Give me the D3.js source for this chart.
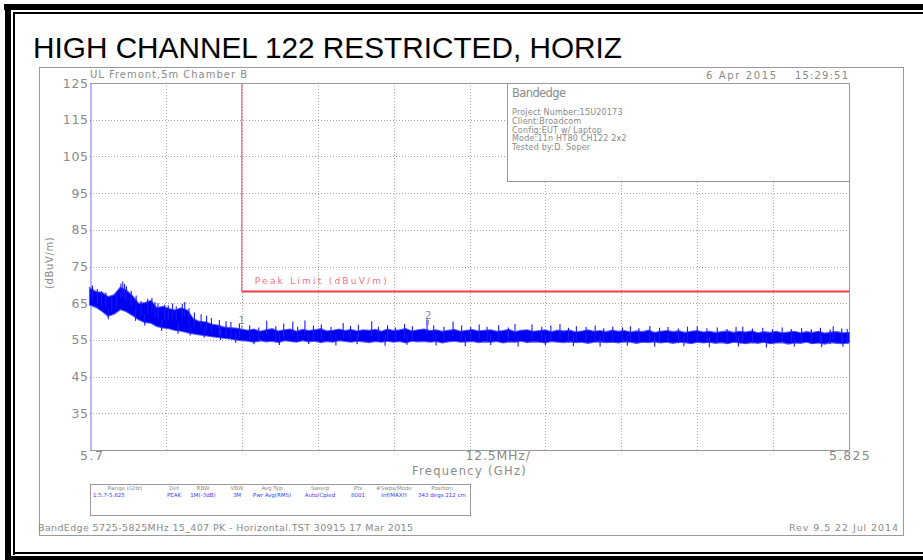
<!DOCTYPE html>
<html>
<head>
<meta charset="utf-8">
<script src="https://cdn.jsdelivr.net/npm/d3@7"></script>
<style>
  body { margin: 0; background: #fff; }
  svg { display: block; }
  .sa { font-family: "DejaVu Sans", sans-serif; fill: #8a8a8a; }
</style>
</head>
<body>
<div id="chart"></div>
<script>
////////////////////////////////////////////////////////////
//////////////////////// data //////////////////////////////
////////////////////////////////////////////////////////////

const title = "HIGH CHANNEL 122 RESTRICTED, HORIZ";

// frequency axis (GHz) and level axis (dBuV/m)
const freqStart = 5.7;
const freqStop = 5.825;
const freqDiv = 0.0125;
const levelTicks = [125, 115, 105, 95, 85, 75, 65, 55, 45, 35];
const levelMin = 25;
const levelMax = 125;

// peak limit line
const limitFreq = 5.725;
const limitLevel = 68.2;

// dense core of the trace, max/min per MHz from 5.700 GHz
const traceHi = [
  69.0, 68.0, 67.8, 66.6, 67.2, 69.2, 68.4, 66.8, 64.8, 65.0,
  65.6, 63.6, 64.0, 63.4, 63.0, 63.6, 63.0, 60.6, 59.9, 59.8,
  59.2, 58.9, 58.4, 58.2, 58.1, 57.8,
  57.5, 57.8, 57.2, 57.6, 57.9, 57.3, 57.6, 57.8, 57.2, 57.7,
  57.4, 57.6, 57.9, 57.3, 57.5, 57.8, 57.4, 57.7, 57.3, 57.6,
  57.5, 57.7, 57.2, 57.8, 57.4, 57.6, 57.9, 57.3, 57.6, 57.8,
  57.4, 57.6, 57.2, 57.5, 57.7, 57.2, 57.5, 57.7, 57.3, 57.5,
  57.6, 57.2, 57.4, 57.7, 57.1, 57.5, 57.6, 57.2, 57.4, 57.6,
  57.1, 57.5, 57.3, 57.5, 57.0, 57.3, 57.6, 57.2, 57.4, 57.1,
  57.5, 57.2, 57.4, 57.0, 57.3, 57.1, 57.5, 56.9, 57.2, 57.4,
  57.1, 57.3, 56.9, 57.2, 57.4, 57.0, 57.2, 56.9, 57.1, 57.3,
  56.9, 57.2, 57.0, 57.3, 56.8, 57.1, 56.9, 57.2, 56.8, 57.0,
  57.2, 56.8, 57.1, 56.9, 57.2, 56.7, 57.0, 57.1, 56.8, 56.9
];
const traceLo = [
  64.6, 64.0, 62.9, 61.6, 62.2, 63.4, 62.8, 61.8, 60.6, 59.9,
  59.7, 58.8, 58.4, 58.2, 57.7, 57.5, 57.1, 56.8, 56.5, 56.3,
  56.0, 55.8, 55.6, 55.4, 55.1, 54.9,
  54.8, 54.5, 54.9, 54.6, 54.8, 54.4, 54.9, 54.7, 54.5, 54.9,
  54.6, 54.8, 54.4, 54.7, 54.5, 54.9, 54.7, 54.5, 54.8, 54.6,
  54.4, 54.7, 54.5, 54.8, 54.5, 54.7, 54.3, 54.8, 54.6, 54.7,
  54.5, 54.7, 54.3, 54.6, 54.8, 54.5, 54.6, 54.7, 54.4, 54.6,
  54.5, 54.7, 54.3, 54.6, 54.5, 54.8, 54.4, 54.6, 54.5, 54.3,
  54.7, 54.5, 54.4, 54.6, 54.4, 54.5, 54.2, 54.5, 54.6, 54.4,
  54.5, 54.3, 54.6, 54.5, 54.2, 54.5, 54.4, 54.6, 54.3, 54.5,
  54.2, 54.5, 54.4, 54.1, 54.5, 54.3, 54.5, 54.2, 54.4, 54.1,
  54.5, 54.3, 54.1, 54.4, 54.2, 54.5, 54.1, 54.3, 54.4, 54.0,
  54.3, 54.2, 54.5, 54.1, 54.3, 54.0, 54.4, 54.2, 54.1, 54.3
];

// single spikes above the core (MHz above 5.700 GHz, dBuV/m)
const spikeOffsets = [
  0.4, 1.2, 1.9, 2.6, 3.6, 4.4, 5.1, 5.4, 5.7, 6.0, 6.8, 7.6, 8.4, 9.5, 10.2, 10.7, 11.2,
  12.3, 12.9, 13.6, 14.2, 15.2, 15.6, 16.3, 17.2, 18.3, 19.2, 20.0, 21.3, 22.4, 23.2, 24.6,
  26.3, 27.8, 29.1, 30.6, 31.9, 33.4, 34.2, 35.4, 36.8, 38.1, 39.7, 41.7, 42.9, 44.2,
  46.4, 47.5, 49.0, 50.3, 51.8, 53.1, 55.5, 56.6, 58.3, 59.8, 61.2, 62.7, 64.1, 65.4,
  67.3, 68.9, 70.0, 72.8, 74.4, 75.9, 77.4, 78.8, 80.1, 81.7, 83.2, 84.6, 86.1, 87.7,
  89.0, 90.4, 92.2, 93.8, 95.2, 96.9, 98.4, 100.0, 101.6, 103.3, 104.9, 106.4, 107.5,
  109.1, 110.8, 112.4, 114.0, 115.5, 117.2, 118.8, 120.3, 121.9, 122.4, 123.8, 124.7
];
const spikeLevels = [
  69.8, 68.9, 68.2, 67.9, 66.9, 67.6, 70.4, 70.9, 70.2, 69.6, 68.4, 67.1, 65.6, 66.2, 66.4, 65.3, 65.0,
  64.6, 64.4, 64.9, 64.2, 64.8, 65.3, 63.6, 62.5, 62.0, 61.6, 61.0, 60.4, 60.1, 59.9, 59.5,
  59.0, 58.4, 60.2, 58.7, 59.5, 60.0, 58.6, 60.3, 58.9, 59.2, 58.5, 59.6, 58.8, 59.1,
  60.1, 58.6, 59.0, 58.4, 59.3, 58.7, 60.6, 59.0, 58.6, 60.0, 58.9, 58.5, 59.2, 58.6,
  59.0, 58.4, 59.3, 59.2, 58.6, 58.9, 59.3, 58.3, 58.7, 58.5, 58.9, 58.2, 58.6, 58.4,
  58.7, 58.2, 58.8, 58.3, 58.5, 58.1, 58.6, 58.7, 58.2, 58.4, 58.0, 58.5, 58.6,
  58.1, 58.3, 57.9, 58.4, 58.0, 58.2, 57.9, 58.3, 57.8, 58.7, 58.1, 58.0
];

// single dips below the core
const dipOffsets = [
  3.0, 7.5, 9.0, 11.8, 14.5, 16.5, 18.8, 21.5, 24.0, 27.0, 31.2, 36.0, 40.5, 44.0, 48.6,
  52.2, 57.0, 61.8, 66.0, 70.5, 75.0, 79.6, 84.0, 88.5, 93.0, 97.8, 102.0, 106.8, 111.4,
  116.0, 120.5, 124.0
];
const dipLevels = [
  60.6, 60.2, 58.9, 57.4, 56.7, 56.2, 55.6, 55.0, 54.2, 53.8, 53.6, 53.9, 53.5, 53.8, 53.4,
  53.7, 53.5, 53.3, 53.6, 53.2, 53.5, 53.3, 53.1, 53.4, 53.1, 53.3, 53.0, 53.2, 52.9,
  53.2, 53.0, 53.1
];

// markers
const markerNames = ["1", "2"];
const markerFreqs = [5.7250, 5.7557];
const markerLevels = [58.2, 59.6];

// annotation box
const noteTitle = "Bandedge";
const noteLines = [
  "Project Number:15U20173",
  "Client:Broadcom",
  "Config:EUT w/ Laptop",
  "Mode:11n HT80 CH122 2x2",
  "Tested by:D. Soper"
];

// settings table under the plot
const setHeads = ["Range (GHz)", "Det", "RBW", "VBW", "Avg Typ", "Sweep", "Pts", "#Swps/Mode", "Position"];
const setVals = ["1:5.7-5.825", "PEAK", "1M(-3dB)", "3M", "Pwr Avg(RMS)", "Auto/Cpled", "8001", "Inf/MAXH", "343 degs 212 cm"];

const siteLabel = "UL Fremont,5m Chamber B";
const dateLabel = "6 Apr 2015";
const timeLabel = "15:29:51";
const spanLabel = "12.5MHz/";
const footLeft = "BandEdge 5725-5825MHz 15_407 PK - Horizontal.TST 30915 17 Mar 2015";
const footRight = "Rev 9.5 22 Jul 2014";

////////////////////////////////////////////////////////////
//////////////////////// set up svg ////////////////////////
////////////////////////////////////////////////////////////

const width = 923;
const height = 560;
const plot = { left: 90, right: 849, top: 83, bottom: 450 };
const setCols = [125, 174, 203, 237, 272, 320, 358, 394, 442];

const svg = d3.select("#chart").append("svg")
  .attr("width", width)
  .attr("height", height);

// black double frame of the page
svg.append("rect").attr("x", 4).attr("y", 4).attr("width", width).attr("height", 6).attr("fill", "#000");
svg.append("rect").attr("x", 13).attr("y", 12).attr("width", width).attr("height", 2).attr("fill", "#000");
svg.append("rect").attr("x", 5).attr("y", 4).attr("width", 6).attr("height", 556).attr("fill", "#000");
svg.append("rect").attr("x", 13).attr("y", 12).attr("width", 2).attr("height", 543).attr("fill", "#000");
svg.append("rect").attr("x", 13).attr("y", 552).attr("width", width).attr("height", 2).attr("fill", "#000");
svg.append("rect").attr("x", 5).attr("y", 556).attr("width", width).attr("height", 5).attr("fill", "#000");

svg.append("text")
  .attr("x", 33).attr("y", 58)
  .attr("font-family", "'Liberation Sans Narrow', 'Arial Narrow', 'Liberation Sans', sans-serif")
  .attr("font-size", 29)
  .attr("textLength", 589).attr("lengthAdjust", "spacingAndGlyphs")
  .attr("fill", "#000")
  .text(title);

// analyzer screenshot border
svg.append("rect")
  .attr("x", 39.5).attr("y", 67.5).attr("width", 864).attr("height", 468)
  .attr("fill", "none").attr("stroke", "#9a9a9a").attr("stroke-width", 1);

////////////////////////////////////////////////////////////
//////////////////////// scales ////////////////////////////
////////////////////////////////////////////////////////////

const x = d3.scaleLinear().domain([freqStart, freqStop]).range([plot.left, plot.right]);
const y = d3.scaleLinear().domain([levelMin, levelMax]).range([plot.bottom, plot.top]);

const freqs = traceHi.map((d, i) => freqStart + i * 0.001);
const mhz = off => freqStart + off / 1000;

////////////////////////////////////////////////////////////
//////////////////////// grid + axes ///////////////////////
////////////////////////////////////////////////////////////

const xGrid = d3.range(1, 10).map(k => freqStart + k * freqDiv);

svg.append("g").selectAll("line")
  .data(levelTicks.filter(d => d < levelMax))
  .join("line")
  .attr("x1", plot.left).attr("x2", plot.right)
  .attr("y1", d => Math.round(y(d)) + 0.5).attr("y2", d => Math.round(y(d)) + 0.5)
  .attr("stroke", "#a8a8a8").attr("stroke-dasharray", "1,2");

svg.append("g").selectAll("line")
  .data(xGrid)
  .join("line")
  .attr("x1", d => Math.round(x(d)) + 0.5).attr("x2", d => Math.round(x(d)) + 0.5)
  .attr("y1", plot.top).attr("y2", plot.bottom)
  .attr("stroke", "#a8a8a8").attr("stroke-dasharray", "1,2");

// plot frame
svg.append("path")
  .attr("d", `M${plot.left},${plot.top + 0.5}H${plot.right + 0.5}V${plot.bottom + 0.5}H${plot.left}`)
  .attr("fill", "none").attr("stroke", "#9a9a9a");

const yAxis = d3.axisLeft(y).tickValues(levelTicks).tickSize(0).tickPadding(2);
const gy = svg.append("g")
  .attr("transform", `translate(${plot.left + 0.5},0)`)
  .call(yAxis);
gy.select(".domain").attr("stroke", "#7a6cff");
gy.selectAll("text")
  .attr("class", "sa")
  .attr("font-size", 12.5)
  .attr("letter-spacing", 0.6)
  .attr("fill", "#8a8a8a");

svg.append("text").attr("class", "sa")
  .attr("transform", `translate(53,${y(76)}) rotate(-90)`)
  .attr("text-anchor", "middle").attr("font-size", 10).attr("letter-spacing", 0.6)
  .text("(dBuV/m)");

svg.append("text").attr("class", "sa")
  .attr("x", x(freqStart) - 10).attr("y", plot.bottom + 10)
  .attr("font-size", 12.5).attr("letter-spacing", 1.5)
  .text(freqStart.toString());
svg.append("text").attr("class", "sa")
  .attr("x", x(freqStart + 5 * freqDiv) - 4).attr("y", plot.bottom + 10)
  .attr("font-size", 12.5).attr("letter-spacing", 0.8)
  .text(spanLabel);
svg.append("text").attr("class", "sa")
  .attr("x", x(freqStop) - 20).attr("y", plot.bottom + 10)
  .attr("font-size", 12.5).attr("letter-spacing", 1.2)
  .text(freqStop.toString());
svg.append("text").attr("class", "sa")
  .attr("x", x(freqStart + 5 * freqDiv)).attr("y", plot.bottom + 25)
  .attr("text-anchor", "middle").attr("font-size", 11.5).attr("letter-spacing", 1.3)
  .text("Frequency (GHz)");

// header texts
svg.append("text").attr("class", "sa")
  .attr("x", 90).attr("y", 78).attr("font-size", 10)
  .attr("textLength", 157).attr("lengthAdjust", "spacing")
  .text(siteLabel);
svg.append("text").attr("class", "sa")
  .attr("x", 706).attr("y", 79).attr("font-size", 10)
  .attr("textLength", 70).attr("lengthAdjust", "spacing")
  .text(dateLabel);
svg.append("text").attr("class", "sa")
  .attr("x", 795).attr("y", 79).attr("font-size", 10)
  .attr("textLength", 53).attr("lengthAdjust", "spacing")
  .text(timeLabel);

////////////////////////////////////////////////////////////
//////////////////////// limit + trace /////////////////////
////////////////////////////////////////////////////////////

svg.append("line")
  .attr("x1", x(limitFreq)).attr("x2", x(limitFreq))
  .attr("y1", plot.top).attr("y2", y(limitLevel))
  .attr("stroke", "#ff5a6e").attr("stroke-width", 1.2);
svg.append("line")
  .attr("x1", x(limitFreq)).attr("x2", plot.right)
  .attr("y1", y(limitLevel)).attr("y2", y(limitLevel))
  .attr("stroke", "#f23c4e").attr("stroke-width", 2);
svg.append("text")
  .attr("x", x(limitFreq) + 13).attr("y", y(limitLevel) - 7)
  .attr("font-family", "DejaVu Sans, sans-serif").attr("font-size", 9)
  .attr("textLength", 132).attr("lengthAdjust", "spacing")
  .attr("fill", "#f27486")
  .text("Peak Limit (dBuV/m)");

const band = d3.area()
  .x((d, i) => x(freqs[i]))
  .y0((d, i) => y(traceLo[i]))
  .y1((d, i) => y(traceHi[i]));

// soft halo, then solid band
svg.append("path")
  .datum(traceHi)
  .attr("d", band)
  .attr("fill", "none")
  .attr("stroke", "#5a5aff")
  .attr("stroke-width", 2.2)
  .attr("stroke-linejoin", "miter");
svg.append("path")
  .datum(traceHi)
  .attr("d", band)
  .attr("fill", "#0000f2");

// single spikes up and down
svg.append("g").selectAll("line")
  .data(spikeOffsets)
  .join("line")
  .attr("x1", d => x(mhz(d))).attr("x2", d => x(mhz(d)))
  .attr("y1", (d, i) => y(spikeLevels[i] - 4))
  .attr("y2", (d, i) => y(spikeLevels[i]))
  .attr("stroke", "#1818ff").attr("stroke-width", 1.1);
svg.append("g").selectAll("line")
  .data(dipOffsets)
  .join("line")
  .attr("x1", d => x(mhz(d))).attr("x2", d => x(mhz(d)))
  .attr("y1", (d, i) => y(dipLevels[i] + 3))
  .attr("y2", (d, i) => y(dipLevels[i]))
  .attr("stroke", "#1818ff").attr("stroke-width", 1.1);

// markers: small tick on the trace and number above it
const mk = svg.append("g").selectAll("g")
  .data(markerNames)
  .join("g")
  .attr("transform", (d, i) => `translate(${x(markerFreqs[i])},${y(markerLevels[i])})`);
mk.append("line")
  .attr("y1", -3).attr("y2", 2)
  .attr("stroke", "#777").attr("stroke-width", 1);
mk.append("text")
  .attr("class", "sa")
  .attr("y", -4)
  .attr("text-anchor", "middle").attr("font-size", 10)
  .attr("fill", "#666")
  .text(d => d);

////////////////////////////////////////////////////////////
//////////////////////// annotation box ////////////////////
////////////////////////////////////////////////////////////

svg.append("rect")
  .attr("x", 507.5).attr("y", 83.5).attr("width", 342).attr("height", 98)
  .attr("fill", "#fff").attr("stroke", "#9a9a9a");
svg.append("text").attr("class", "sa")
  .attr("x", 512).attr("y", 97).attr("font-size", 11.5)
  .attr("textLength", 54).attr("lengthAdjust", "spacing")
  .text(noteTitle);
svg.append("g").selectAll("text")
  .data(noteLines)
  .join("text")
  .attr("class", "sa")
  .attr("x", 512)
  .attr("y", (d, i) => 115 + i * 8.8)
  .attr("font-size", 8)
  .attr("letter-spacing", 0.2)
  .text(d => d);

////////////////////////////////////////////////////////////
//////////////////////// settings table ////////////////////
////////////////////////////////////////////////////////////

svg.append("rect")
  .attr("x", 90.5).attr("y", 484.5).attr("width", 380).attr("height", 31)
  .attr("fill", "none").attr("stroke", "#9a9a9a");
svg.append("g").selectAll("text")
  .data(setHeads)
  .join("text")
  .attr("class", "sa")
  .attr("x", (d, i) => setCols[i]).attr("y", 490)
  .attr("text-anchor", "middle").attr("font-size", 5.5)
  .attr("fill", "#777")
  .text(d => d);
svg.append("g").selectAll("text")
  .data(setVals)
  .join("text")
  .attr("x", (d, i) => i === 0 ? 93 : setCols[i]).attr("y", 497)
  .attr("text-anchor", (d, i) => i === 0 ? "start" : "middle")
  .attr("font-family", "DejaVu Sans, sans-serif").attr("font-size", 5.5)
  .attr("fill", "#3a3aff")
  .text(d => d);

// footer
svg.append("text").attr("class", "sa")
  .attr("x", 38).attr("y", 531).attr("font-size", 9.5)
  .attr("textLength", 375).attr("lengthAdjust", "spacing")
  .text(footLeft);
svg.append("text").attr("class", "sa")
  .attr("x", 789).attr("y", 531).attr("font-size", 9.5)
  .attr("textLength", 109).attr("lengthAdjust", "spacing")
  .text(footRight);
</script>
</body>
</html>
